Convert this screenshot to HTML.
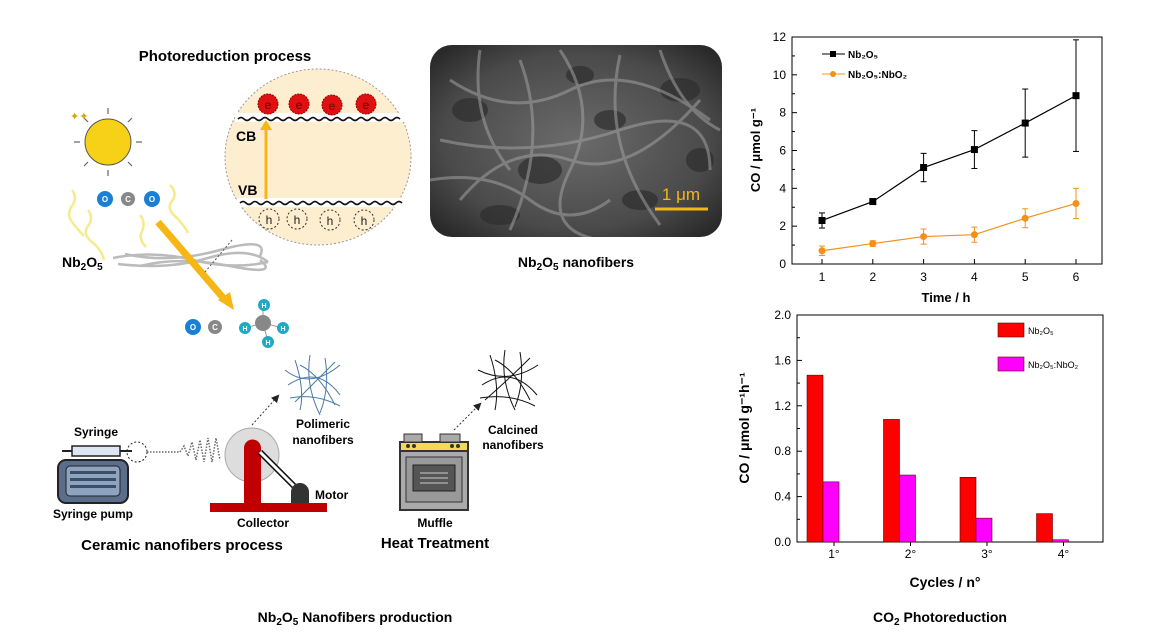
<!DOCTYPE html>
<html><head><meta charset="utf-8"><style>
html,body{margin:0;padding:0;background:#fff;}
svg{display:block;font-family:"Liberation Sans",Arial,sans-serif;}
</style></head><body>
<svg width="1167" height="637" viewBox="0 0 1167 637" xmlns="http://www.w3.org/2000/svg" id="root">
<defs>
<radialGradient id="sem" cx="50%" cy="50%" r="65%"><stop offset="0" stop-color="#6b6b6b"/><stop offset="0.7" stop-color="#4a4a4a"/><stop offset="1" stop-color="#2a2a2a"/></radialGradient>
<marker id="ah" markerWidth="8" markerHeight="8" refX="6" refY="4" orient="auto"><path d="M0,0 L8,4 L0,8 z" fill="#222"/></marker>
<clipPath id="semclip"><rect x="430" y="45" width="292" height="192" rx="22"/></clipPath>
</defs>

<!-- Photoreduction -->
<text x="225" y="61" text-anchor="middle" font-weight="bold" font-size="15">Photoreduction process</text>
<g>
<circle cx="108" cy="142" r="23" fill="#f7d117" stroke="#555" stroke-width="1"/>
<g stroke="#666" stroke-width="1.2">
<line x1="108" y1="108" x2="108" y2="114"/><line x1="108" y1="170" x2="108" y2="176"/>
<line x1="74" y1="142" x2="80" y2="142"/><line x1="136" y1="142" x2="142" y2="142"/>
<line x1="84" y1="118" x2="88" y2="122"/><line x1="128" y1="162" x2="132" y2="166"/>
<line x1="132" y1="118" x2="128" y2="122"/><line x1="84" y1="166" x2="88" y2="162"/>
</g>
<text x="70" y="120" font-size="11" fill="#d4a800">✦✦</text>
</g>
<g fill="none" stroke="#f4ea8e" stroke-width="2.5">
<path d="M72,190 q6,8 0,16 q-6,8 0,16 q6,8 12,14"/>
<path d="M88,210 q6,8 0,16 q-6,8 4,16 q10,8 12,18"/>
<path d="M170,185 q8,8 2,16 q-6,8 4,16 q8,8 12,16"/>
<path d="M140,215 q6,8 2,16 q-4,8 4,16"/>
</g>
<g font-size="8" font-weight="bold" fill="#fff" text-anchor="middle">
<circle cx="105" cy="199" r="8" fill="#1a7fd6"/><circle cx="128" cy="199" r="7" fill="#888"/><circle cx="152" cy="199" r="8" fill="#1a7fd6"/>
<text x="105" y="202">O</text><text x="128" y="202">C</text><text x="152" y="202">O</text>
</g>
<g stroke="#bbb" stroke-width="2.5" fill="none">
<path d="M113,258 q40,-8 80,2 t75,2"/><path d="M118,264 q50,6 90,-6 t60,4"/><path d="M125,254 q45,10 95,-4 t40,6"/><path d="M140,266 q40,-10 90,0 t30,-6"/>
</g>
<text x="62" y="267" font-weight="bold" font-size="14">Nb<tspan font-size="10" dy="3">2</tspan><tspan dy="-3">O</tspan><tspan font-size="10" dy="3">5</tspan></text>
<line x1="158" y1="222" x2="225" y2="300" stroke="#f6b614" stroke-width="7"/>
<path d="M218,300 L234,310 L230,292 z" fill="#f6b614"/>
<g font-size="8" font-weight="bold" fill="#fff" text-anchor="middle">
<circle cx="193" cy="327" r="8" fill="#1a7fd6"/><circle cx="215" cy="327" r="7" fill="#888"/>
<text x="193" y="330">O</text><text x="215" y="330">C</text>
</g>
<g font-size="7" font-weight="bold" fill="#fff" text-anchor="middle">
<line x1="263" y1="323" x2="263" y2="305" stroke="#999"/><line x1="263" y1="323" x2="245" y2="328" stroke="#999"/><line x1="263" y1="323" x2="283" y2="328" stroke="#999"/><line x1="263" y1="323" x2="268" y2="342" stroke="#999"/>
<circle cx="263" cy="323" r="8" fill="#888"/><circle cx="264" cy="305" r="6" fill="#20a9c4"/><circle cx="245" cy="328" r="6" fill="#20a9c4"/><circle cx="283" cy="328" r="6" fill="#20a9c4"/><circle cx="268" cy="342" r="6" fill="#20a9c4"/>
<text x="264" y="308">H</text><text x="245" y="331">H</text><text x="283" y="331">H</text><text x="268" y="345">H</text>
</g>
<line x1="232" y1="240" x2="205" y2="272" stroke="#555" stroke-dasharray="2,2"/>
<g>
<ellipse cx="318" cy="157" rx="93" ry="88" fill="#fdeecf" stroke="#999" stroke-dasharray="2,2"/>
<rect x="235" y="113" width="170" height="9" fill="#fff"/><rect x="237" y="198" width="168" height="9" fill="#fff"/>
<path d="M238,119 q3,-3 6,0 t6,0 t6,0 t6,0 t6,0 t6,0 t6,0 t6,0 t6,0 t6,0 t6,0 t6,0 t6,0 t6,0 t6,0 t6,0 t6,0 t6,0 t6,0 t6,0 t6,0 t6,0 t6,0 t6,0 t6,0 t6,0 t6,0" fill="none" stroke="#111" stroke-width="1.6"/>
<path d="M240,203 q3,-3 6,0 t6,0 t6,0 t6,0 t6,0 t6,0 t6,0 t6,0 t6,0 t6,0 t6,0 t6,0 t6,0 t6,0 t6,0 t6,0 t6,0 t6,0 t6,0 t6,0 t6,0 t6,0 t6,0 t6,0 t6,0 t6,0 t6,0" fill="none" stroke="#111" stroke-width="1.6"/>
<line x1="266" y1="199" x2="266" y2="128" stroke="#f6b614" stroke-width="3"/><path d="M260,130 L266,120 L272,130 z" fill="#f6b614"/>
<text x="236" y="141" font-weight="bold" font-size="14">CB</text><text x="238" y="195" font-weight="bold" font-size="14">VB</text>
<g fill="#e01010" stroke="#900" stroke-dasharray="2,1"><circle cx="268" cy="104" r="10"/><circle cx="299" cy="104" r="10"/><circle cx="332" cy="105" r="10"/><circle cx="366" cy="104" r="10"/></g>
<g font-size="12" fill="#600" text-anchor="middle"><text x="268" y="109">e</text><text x="299" y="109">e</text><text x="332" y="110">e</text><text x="366" y="109">e</text></g>
<g fill="none" stroke="#333" stroke-dasharray="2,2"><circle cx="269" cy="219" r="10"/><circle cx="297" cy="219" r="10"/><circle cx="330" cy="220" r="10"/><circle cx="364" cy="220" r="10"/></g>
<g font-size="12" fill="#222" text-anchor="middle"><text x="269" y="224">h</text><text x="297" y="224">h</text><text x="330" y="225">h</text><text x="364" y="225">h</text></g>
</g>
<g>
<rect x="430" y="45" width="292" height="192" rx="22" fill="url(#sem)"/>
<g clip-path="url(#semclip)">
<g fill="#2e2e2e" opacity="0.7">
<ellipse cx="470" cy="110" rx="18" ry="12"/><ellipse cx="540" cy="170" rx="22" ry="14"/><ellipse cx="610" cy="120" rx="16" ry="10"/><ellipse cx="680" cy="90" rx="20" ry="12"/><ellipse cx="500" cy="215" rx="20" ry="10"/><ellipse cx="640" cy="200" rx="18" ry="10"/><ellipse cx="580" cy="75" rx="14" ry="9"/><ellipse cx="700" cy="160" rx="14" ry="12"/>
</g>
<g stroke="#a0a0a0" stroke-width="3" fill="none" opacity="0.55">
<path d="M450,80 q60,40 120,10 t140,30"/><path d="M460,200 q50,-60 110,-40 t130,-60"/><path d="M520,60 q30,80 -10,170"/><path d="M620,55 q-20,90 40,170"/><path d="M440,140 q90,20 180,-10 t90,40"/>
<path d="M430,180 q60,-10 100,20 t80,0"/><path d="M560,50 q40,60 10,120 t30,70"/><path d="M660,50 q20,60 60,80"/><path d="M480,50 q-10,70 30,120"/>
</g>
</g>
<line x1="655" y1="209" x2="708" y2="209" stroke="#f6b614" stroke-width="3"/>
<text x="681" y="200" text-anchor="middle" font-size="17" fill="#f6b614">1 μm</text>
</g>
<text x="576" y="267" text-anchor="middle" font-weight="bold" font-size="14">Nb<tspan font-size="10" dy="3">2</tspan><tspan dy="-3">O</tspan><tspan font-size="10" dy="3">5</tspan><tspan dy="-3"> nanofibers</tspan></text>

<!-- Electrospinning -->
<g>
<rect x="58" y="460" width="70" height="43" rx="8" fill="#5a6e8c" stroke="#222" stroke-width="2"/>
<rect x="66" y="466" width="54" height="30" rx="4" fill="#8ea3c0" stroke="#222"/>
<g fill="#3c4d66"><rect x="70" y="471" width="46" height="3"/><rect x="70" y="478" width="46" height="3"/><rect x="70" y="485" width="46" height="3"/></g>
<rect x="72" y="446" width="48" height="10" fill="#dde6f2" stroke="#222" stroke-width="1.5"/>
<line x1="62" y1="451" x2="72" y2="451" stroke="#222" stroke-width="2"/><line x1="120" y1="451" x2="132" y2="451" stroke="#222" stroke-width="2"/>
<circle cx="137" cy="452" r="10" fill="none" stroke="#222" stroke-dasharray="2,2"/>
</g>
<text x="96" y="436" text-anchor="middle" font-weight="bold" font-size="12">Syringe</text>
<text x="93" y="518" text-anchor="middle" font-weight="bold" font-size="12">Syringe pump</text>
<path d="M147,452 L180,452 l4,-6 l4,10 l4,-14 l4,18 l4,-20 l4,22 l4,-24 l4,24 l4,-24 l4,22" fill="none" stroke="#666" stroke-dasharray="1.5,1.5" stroke-width="1.5"/>
<g>
<circle cx="252" cy="455" r="27" fill="#ddd" stroke="#aaa"/>
<path d="M244,503 L244,448 a8.5,8.5 0 0 1 17,0 L261,503 z" fill="#c00000"/>
<line x1="260" y1="452" x2="300" y2="492" stroke="#111" stroke-width="6"/><line x1="260" y1="452" x2="300" y2="492" stroke="#fff" stroke-width="3"/>
<path d="M291,503 L291,492 a9,9 0 0 1 18,0 L309,503 z" fill="#333"/>
<rect x="210" y="503" width="117" height="9" fill="#c00000"/>
</g>
<text x="263" y="527" text-anchor="middle" font-weight="bold" font-size="12">Collector</text>
<text x="315" y="499" font-weight="bold" font-size="12">Motor</text>
<line x1="252" y1="425" x2="278" y2="396" stroke="#333" stroke-dasharray="2,2" marker-end="url(#ah)"/>
<g stroke="#4a7aa8" stroke-width="1" fill="none">
<path d="M285,370 q25,20 55,-5"/><path d="M288,385 q30,-20 52,10"/><path d="M295,360 q10,30 5,50"/><path d="M310,355 q-5,30 10,60"/><path d="M325,358 q5,30 -5,55"/><path d="M290,398 q25,-5 50,8"/><path d="M300,365 q20,10 35,40"/><path d="M335,362 q-20,20 -40,40"/>
</g>
<text x="323" y="428" text-anchor="middle" font-weight="bold" font-size="12">Polimeric</text>
<text x="323" y="444" text-anchor="middle" font-weight="bold" font-size="12">nanofibers</text>
<text x="182" y="550" text-anchor="middle" font-weight="bold" font-size="15">Ceramic nanofibers process</text>

<g>
<rect x="400" y="442" width="68" height="68" fill="#aaa" stroke="#333" stroke-width="2"/>
<rect x="400" y="442" width="68" height="9" fill="#f5d85a" stroke="#333" stroke-width="2"/>
<rect x="404" y="434" width="18" height="8" fill="#aaa" stroke="#333"/><rect x="440" y="434" width="20" height="8" fill="#aaa" stroke="#333"/>
<g fill="#333"><circle cx="408" cy="446" r="2"/><circle cx="414" cy="446" r="2"/><circle cx="452" cy="446" r="2"/><circle cx="458" cy="446" r="2"/></g>
<rect x="406" y="457" width="56" height="45" fill="#999" stroke="#333"/>
<rect x="413" y="465" width="42" height="26" fill="#555" stroke="#222"/>
<g stroke="#ccc"><line x1="420" y1="473" x2="448" y2="473"/><line x1="420" y1="478" x2="448" y2="478"/><line x1="420" y1="483" x2="448" y2="483"/></g>
</g>
<line x1="454" y1="430" x2="480" y2="404" stroke="#333" stroke-dasharray="2,2" marker-end="url(#ah)"/>
<g stroke="#111" stroke-width="1" fill="none">
<path d="M478,370 q30,15 60,-5"/><path d="M482,385 q30,-20 55,10"/><path d="M490,355 q10,30 5,55"/><path d="M505,350 q-5,30 10,60"/><path d="M520,352 q5,30 -5,55"/><path d="M480,398 q30,-5 55,8"/><path d="M495,360 q20,10 35,40"/><path d="M530,358 q-20,20 -45,42"/>
</g>
<text x="513" y="434" text-anchor="middle" font-weight="bold" font-size="12">Calcined</text>
<text x="513" y="449" text-anchor="middle" font-weight="bold" font-size="12">nanofibers</text>
<text x="435" y="527" text-anchor="middle" font-weight="bold" font-size="12">Muffle</text>
<text x="435" y="548" text-anchor="middle" font-weight="bold" font-size="15">Heat Treatment</text>

<text x="355" y="622" text-anchor="middle" font-weight="bold" font-size="14">Nb<tspan font-size="10" dy="3">2</tspan><tspan dy="-3">O</tspan><tspan font-size="10" dy="3">5</tspan><tspan dy="-3"> Nanofibers production</tspan></text>
<text x="940" y="622" text-anchor="middle" font-weight="bold" font-size="14">CO<tspan font-size="10" dy="3">2</tspan><tspan dy="-3"> Photoreduction</tspan></text>

<g id="chart1"></g>
<g id="chart2"></g>
</svg>
<script>
const hours = [1,2,3,4,5,6];
const nb2o5Co = [2.3,3.3,5.1,6.05,7.45,8.9];
const nb2o5Err = [0.4,0,0.75,1.0,1.8,2.95];
const mixCo = [0.7,1.08,1.45,1.55,2.42,3.2];
const mixErr = [0.25,0.15,0.4,0.4,0.5,0.8];
const yTicks1 = [0,2,4,6,8,10,12];

const cycles = ['1°','2°','3°','4°'];
const nb2o5Rate = [1.47,1.08,0.57,0.25];
const mixRate = [0.53,0.59,0.21,0.02];
const yTicks2 = [0,0.4,0.8,1.2,1.6,2.0];

const NS='http://www.w3.org/2000/svg';
function mk(parent,tag,attrs,text){const e=document.createElementNS(NS,tag);for(const k in attrs)e.setAttribute(k,attrs[k]);if(text!==undefined)e.textContent=text;parent.appendChild(e);return e;}

// Chart 1
(function(){
const g=document.getElementById('chart1');
const L=792,R=1102,T=37,B=264;
const x=v=>822+(v-1)*50.8;
const y=v=>B-(v/12)*(B-T);
const frame=mk(g,'rect',{x:L,y:T,width:R-L,height:B-T,fill:'none',stroke:'#000','stroke-width':1});


yTicks1.forEach(t=>{mk(g,'line',{x1:L,y1:y(t),x2:L+5,y2:y(t),stroke:'#000'});
const tl=mk(g,'text',{x:L-6,y:y(t)+4,'text-anchor':'end','font-size':12},String(t));


if(t<12)mk(g,'line',{x1:L,y1:y(t+1),x2:L+3,y2:y(t+1),stroke:'#000'});});
hours.forEach(h=>{mk(g,'line',{x1:x(h),y1:B,x2:x(h),y2:B-5,stroke:'#000'});
const tl=mk(g,'text',{x:x(h),y:B+17,'text-anchor':'middle','font-size':12},String(h));

});
const xt=mk(g,'text',{x:946,y:302,'text-anchor':'middle','font-size':13,'font-weight':'bold'},'Time / h');


const yt=mk(g,'text',{transform:'translate(760,150) rotate(-90)','text-anchor':'middle','font-size':13,'font-weight':'bold'},'CO  / μmol g⁻¹');


function series(vals,errs,col,name){
 const pl=mk(g,'polyline',{points:hours.map((h,i)=>x(h)+','+y(vals[i])).join(' '),fill:'none',stroke:col,'stroke-width':1.2});
 
 
 hours.forEach((h,i)=>{
  if(errs[i]>0){mk(g,'line',{x1:x(h),y1:y(vals[i]-errs[i]),x2:x(h),y2:y(vals[i]+errs[i]),stroke:col});
  mk(g,'line',{x1:x(h)-3,y1:y(vals[i]-errs[i]),x2:x(h)+3,y2:y(vals[i]-errs[i]),stroke:col});
  mk(g,'line',{x1:x(h)-3,y1:y(vals[i]+errs[i]),x2:x(h)+3,y2:y(vals[i]+errs[i]),stroke:col});}
  const p=col==='#000'?mk(g,'rect',{x:x(h)-3.5,y:y(vals[i])-3.5,width:7,height:7,fill:col}):mk(g,'circle',{cx:x(h),cy:y(vals[i]),r:3.5,fill:col});
  
  
 });
}
series(nb2o5Co,nb2o5Err,'#000','nb2o5');
series(mixCo,mixErr,'#f39019','nb2o5-nbo2');
mk(g,'line',{x1:822,y1:54,x2:845,y2:54,stroke:'#000'});mk(g,'rect',{x:830,y:51,width:6,height:6,fill:'#000'});
const l1=mk(g,'text',{x:848,y:58,'font-size':10,'font-weight':'bold'},'Nb₂O₅');


mk(g,'line',{x1:822,y1:74,x2:845,y2:74,stroke:'#f39019'});mk(g,'circle',{cx:833,cy:74,r:3,fill:'#f39019'});
const l2=mk(g,'text',{x:848,y:78,'font-size':10,'font-weight':'bold'},'Nb₂O₅:NbO₂');


})();

// Chart 2
(function(){
const g=document.getElementById('chart2');
const L=797,R=1103,T=315,B=542;
const cx=i=>834+i*76.5;
const y=v=>B-(v/2)*(B-T);
const frame=mk(g,'rect',{x:L,y:T,width:R-L,height:B-T,fill:'none',stroke:'#000'});


yTicks2.forEach(t=>{mk(g,'line',{x1:L,y1:y(t),x2:L+5,y2:y(t),stroke:'#000'});
const tl=mk(g,'text',{x:L-6,y:y(t)+4,'text-anchor':'end','font-size':12},t.toFixed(1));


if(t<2)mk(g,'line',{x1:L,y1:y(t+0.2),x2:L+3,y2:y(t+0.2),stroke:'#000'});});
cycles.forEach((c,i)=>{mk(g,'line',{x1:cx(i),y1:B,x2:cx(i),y2:B+4,stroke:'#000'});
const tl=mk(g,'text',{x:cx(i),y:B+16,'text-anchor':'middle','font-size':12},c);


const b1=mk(g,'rect',{x:cx(i)-27,y:y(nb2o5Rate[i]),width:16,height:B-y(nb2o5Rate[i]),fill:'#ff0000',stroke:'#600','stroke-width':0.6});


const b2=mk(g,'rect',{x:cx(i)-11,y:y(mixRate[i]),width:16,height:B-y(mixRate[i]),fill:'#ff00ff',stroke:'#600','stroke-width':0.6});

});
const xt=mk(g,'text',{x:945,y:587,'text-anchor':'middle','font-size':14,'font-weight':'bold'},'Cycles / n°');


const yt=mk(g,'text',{transform:'translate(749,428) rotate(-90)','text-anchor':'middle','font-size':14,'font-weight':'bold'},'CO  / μmol g⁻¹h⁻¹');


mk(g,'rect',{x:998,y:323,width:26,height:14,fill:'#ff0000',stroke:'#600','stroke-width':0.6});
const l1=mk(g,'text',{x:1028,y:334,'font-size':9},'Nb₂O₅');


mk(g,'rect',{x:998,y:357,width:26,height:14,fill:'#ff00ff',stroke:'#600','stroke-width':0.6});
const l2=mk(g,'text',{x:1028,y:368,'font-size':9},'Nb₂O₅:NbO₂');


})();
</script>
</body></html>
